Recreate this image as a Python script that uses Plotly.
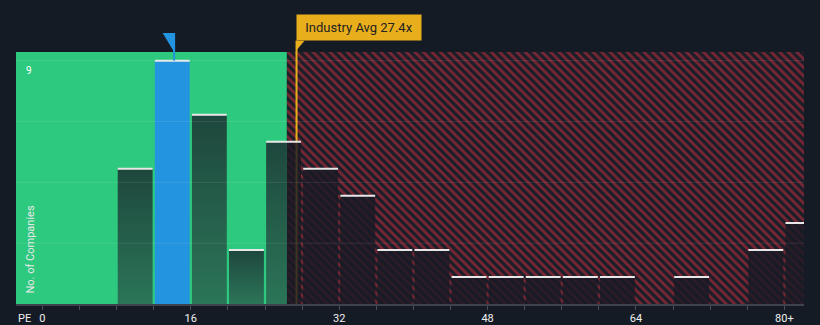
import plotly.graph_objects as go

# ---- data ----
bin_starts = [0, 4, 8, 12, 16, 20, 24, 28, 32, 36, 40, 44, 48, 52, 56, 60, 64, 68, 72, 76, 80]
counts = [0, 0, 5, 9, 7, 2, 6, 5, 4, 2, 2, 1, 1, 1, 1, 1, 0, 1, 0, 2, 3]
bin_width = 4
company_pe = 14.2
industry_avg = 27.4
fair_limit = 26.35
tick_vals = [0, 4, 8, 12, 16, 20, 24, 28, 32, 36, 40, 44, 48, 52, 56, 60, 64, 68, 72, 76, 80]
tick_text = ["0", "", "", "", "16", "", "", "", "32", "", "", "", "48", "", "", "", "64", "", "", "", "80+"]
y_label_val = 9

# ---- style ----
BG = "#151b24"
GREEN = "#2dc97e"
BLUE = "#2394df"
HATCH_FG = "#7b2733"
HATCH_BG = "#1b1e29"
GOLD = "#e9ae1c"
X_MIN, X_MAX = -2.85, 82.12
Y_MAX = 9.32
GAP = 0.12
FONT = "Roboto, sans-serif"

fig = go.Figure()

# red hatched (overvalued) region
fig.add_trace(go.Bar(
    x=[(fair_limit + X_MAX) / 2], y=[Y_MAX], width=[X_MAX - fair_limit], base=0,
    marker=dict(color=HATCH_FG, line=dict(width=0),
                pattern=dict(shape="\\", fillmode="replace", fgcolor=HATCH_FG,
                             bgcolor=HATCH_BG, size=6, solidity=0.45)),
    hoverinfo="skip", showlegend=False))

# industry average line (inside plot)
fig.add_trace(go.Scatter(x=[industry_avg, industry_avg], y=[0, Y_MAX], mode="lines",
                         line=dict(color=GOLD, width=2), hoverinfo="skip", showlegend=False))

# bars
hl_index = next(i for i, s in enumerate(bin_starts) if s <= company_pe < s + bin_width)
cap_x, cap_y = [], []
red_x, red_y = [], []
for i, (s, c) in enumerate(zip(bin_starts, counts)):
    if c <= 0:
        continue
    x0, x1 = s + GAP, s + bin_width - GAP
    cap_x += [x0, x1, None]
    cap_y += [c, c, None]
    if i == hl_index:
        fig.add_trace(go.Scatter(x=[x0, x0, x1, x1, x0], y=[0, c, c, 0, 0], fill="toself",
                                 fillcolor=BLUE, mode="lines", line=dict(width=0),
                                 hoverinfo="skip", showlegend=False))
        continue
    # green-region part (gradient)
    if x0 < fair_limit:
        gx1 = min(x1, fair_limit)
        fig.add_trace(go.Scatter(
            x=[x0, x0, gx1, gx1, x0], y=[0, c, c, 0, 0], fill="toself", mode="lines",
            line=dict(width=0),
            fillgradient=dict(type="vertical", start=0, stop=c,
                              colorscale=[[0, "#2b7558"], [1, "#1e473d"]]),
            hoverinfo="skip", showlegend=False))
    # red-region part (dark translucent)
    if x1 > fair_limit:
        rx0 = max(x0, fair_limit)
        red_x += [rx0, rx0, x1, x1, rx0, None]
        red_y += [0, c, c, 0, 0, None]

fig.add_trace(go.Scatter(x=red_x, y=red_y, fill="toself", fillcolor="rgba(24,26,36,0.82)",
                         mode="lines", line=dict(width=0), hoverinfo="skip", showlegend=False))

# white caps
fig.add_trace(go.Scatter(x=cap_x, y=cap_y, mode="lines", line=dict(color="#e8e8e8", width=2),
                         hoverinfo="skip", showlegend=False))

shapes = []
# green (fair) region
shapes.append(dict(type="rect", xref="x", yref="y", x0=X_MIN, x1=fair_limit, y0=0, y1=Y_MAX,
                   fillcolor=GREEN, line=dict(width=0), layer="below"))
# gridlines
for k in range(1, 5):
    gy = y_label_val * k / 4
    shapes.append(dict(type="line", xref="paper", yref="y", x0=0, x1=1, y0=gy, y1=gy,
                       line=dict(color="rgba(255,255,255,0.09)", width=1), layer="above"))

# company flag (above highlighted bar)
bar_top = counts[hl_index] / Y_MAX
px_unit = (X_MAX - X_MIN) / 788.0
shapes.append(dict(type="line", xref="x", yref="paper", x0=company_pe, x1=company_pe,
                   y0=bar_top, y1=1.075, line=dict(color=BLUE, width=2), layer="above"))
shapes.append(dict(type="path", xref="x", yref="paper",
                   path=f"M {company_pe - 11.5 * px_unit},1.075 L {company_pe + 0.8 * px_unit},1.075 "
                        f"L {company_pe},1.0 Z",
                   fillcolor=BLUE, line=dict(width=0), layer="above"))
# industry avg pointer above plot
shapes.append(dict(type="line", xref="x", yref="paper", x0=industry_avg, x1=industry_avg,
                   y0=1.0, y1=1.045, line=dict(color=GOLD, width=2), layer="above"))
shapes.append(dict(type="path", xref="x", yref="paper",
                   path=f"M {industry_avg - 0.5 * px_unit},1.045 L {industry_avg + 8 * px_unit},1.045 "
                        f"L {industry_avg - 0.5 * px_unit},1.005 Z",
                   fillcolor=GOLD, line=dict(width=0), layer="above"))

annotations = [
    dict(x=industry_avg, xref="x", y=1.043, yref="paper", xanchor="left", yanchor="bottom",
         xshift=-1, text="Industry Avg 27.4x", showarrow=False, width=116, height=17,
         font=dict(family=FONT, size=13, color="#222222"), bgcolor=GOLD,
         borderpad=4, align="center", valign="middle"),
    dict(x=0, xref="paper", y=y_label_val, yref="y", xanchor="left", yanchor="top",
         xshift=8, yshift=-2, text=str(y_label_val), showarrow=False,
         font=dict(family=FONT, size=10, color="#ffffff")),
    dict(x=0, xref="paper", y=0, yref="paper", xanchor="left", yanchor="bottom",
         xshift=5, yshift=8, text="No. of Companies", textangle=-90, showarrow=False,
         font=dict(family=FONT, size=11, color="#e8e8e8")),
    dict(x=0, xref="paper", y=0, yref="paper", xanchor="left", yanchor="top",
         xshift=0, yshift=-6, text="PE", showarrow=False,
         font=dict(family=FONT, size=11, color="#f0f0f0")),
]

fig.update_layout(
    width=820, height=325,
    margin=dict(l=16, r=16, t=52, b=21, autoexpand=False),
    paper_bgcolor=BG, plot_bgcolor=BG,
    shapes=shapes, annotations=annotations,
    showlegend=False, bargap=0,
    xaxis=dict(range=[X_MIN, X_MAX], tickmode="array", tickvals=tick_vals, ticktext=tick_text,
               ticks="outside", ticklen=4, tickcolor="#4a4f58", tickwidth=1,
               ticklabelstandoff=-1,
               showline=True, linecolor="#3d424c", linewidth=2, showgrid=False, zeroline=False,
               automargin=False,
               tickfont=dict(family=FONT, size=11, color="#f0f0f0"), fixedrange=True),
    yaxis=dict(range=[0, Y_MAX], showgrid=False, zeroline=False, showticklabels=False,
               automargin=False, fixedrange=True),
)

fig.write_html("out.html")
